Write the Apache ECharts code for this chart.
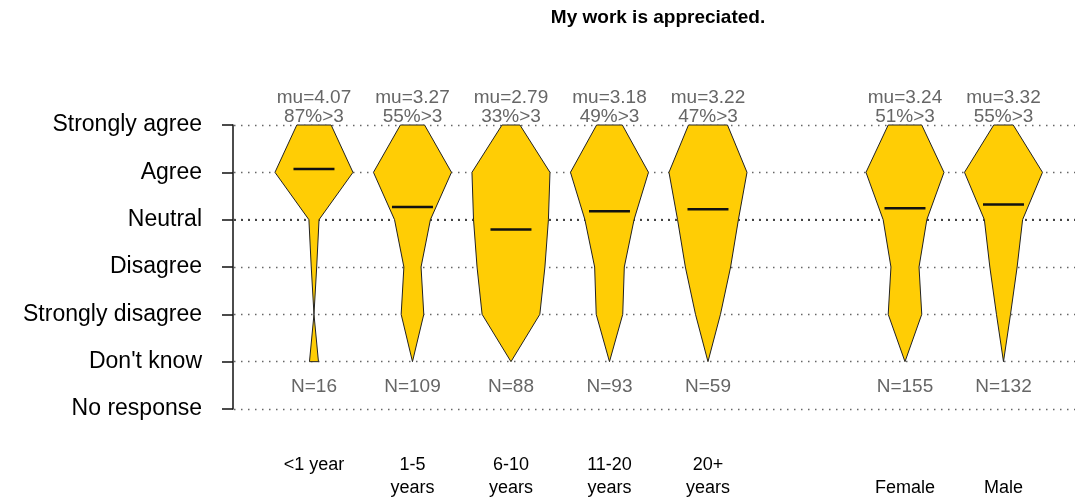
<!DOCTYPE html>
<html>
<head>
<meta charset="utf-8">
<script src="https://cdn.jsdelivr.net/npm/echarts@6/dist/echarts.min.js"></script>
<style>
  html, body { margin: 0; padding: 0; background: #fff; }
  #chart { width: 1075px; height: 502px; }
</style>
</head>
<body>
<div id="chart"></div>
<script>
const levels = ['No response', "Don't know", 'Strongly disagree', 'Disagree', 'Neutral', 'Agree', 'Strongly agree']
const groups = ['<1 year', '1-5\nyears', '6-10\nyears', '11-20\nyears', '20+\nyears', '\nFemale', '\nMale']
const groupPos = [0, 1, 2, 3, 4, 6, 7]
const mu = [4.07, 3.27, 2.79, 3.18, 3.22, 3.24, 3.32]
const pctAbove = ['87%>3', '55%>3', '33%>3', '49%>3', '47%>3', '51%>3', '55%>3']
const nResp = [16, 109, 88, 93, 59, 155, 132]

// relative half-widths of each shape at each level (1 = widest)
const wDontKnow = [0.115, 0, 0, 0, 0, 0, 0]
const wStrDisagree = [0, 0.29, 0.74, 0.34, 0.32, 0.43, 0.18]
const wDisagree = [0.07, 0.22, 0.87, 0.38, 0.58, 0.36, 0.35]
const wNeutral = [0.13, 0.46, 0.96, 0.63, 0.78, 0.56, 0.49]
const wAgree = [1, 1, 1, 1, 1, 1, 1]
const wStrAgree = [0.44, 0.31, 0.23, 0.33, 0.5, 0.43, 0.25]

const FILL = '#FFCD05'
const GRAY = '#666666'
const MAXW = 0.396
const MEANW = 0.208
const FONT = '"Liberation Sans", Arial, sans-serif'

const chart = echarts.init(document.getElementById('chart'))

const data = groupPos.map((p, i) => [p, wDontKnow[i], wStrDisagree[i], wDisagree[i], wNeutral[i], wAgree[i], wStrAgree[i], mu[i], i])

const renderViolin = (params, api) => {
  const x = api.value(0)
  const ws = [1, 2, 3, 4, 5, 6].map((k) => api.value(k))
  const m = api.value(7)
  const i = api.value(8)
  const pts = []
  for (let l = 0; l < 6; l++) pts.push(api.coord([x + ws[l] * MAXW, l]))
  for (let l = 5; l >= 0; l--) pts.push(api.coord([x - ws[l] * MAXW, l]))
  const a = api.coord([x - MEANW, m])
  const b = api.coord([x + MEANW, m])
  const top = api.coord([x, 5])
  const bot = api.coord([x, -0.5])
  return {
    type: 'group',
    children: [
      {
        type: 'polygon',
        shape: { points: pts },
        style: { fill: FILL, stroke: '#222', lineWidth: 1 }
      },
      {
        type: 'line',
        shape: { x1: a[0], y1: a[1], x2: b[0], y2: b[1] },
        style: { stroke: '#111', lineWidth: 2.5 }
      },
      {
        type: 'text',
        x: top[0],
        y: top[1] + 1.5,
        style: {
          text: 'mu=' + m.toFixed(2) + '\n' + pctAbove[i],
          fill: GRAY, fontSize: 19, fontFamily: FONT, lineHeight: 19,
          align: 'center', verticalAlign: 'bottom'
        }
      },
      {
        type: 'text',
        x: bot[0],
        y: bot[1] + 1,
        style: {
          text: 'N=' + nResp[i],
          fill: GRAY, fontSize: 19, fontFamily: FONT,
          align: 'center', verticalAlign: 'middle'
        }
      }
    ]
  }
}

const option = {
  backgroundColor: '#fff',
  animation: false,
  graphic: [{
    type: 'text',
    x: 658,
    y: 18,
    style: {
      text: 'My work is appreciated.',
      fill: '#000', fontSize: 19, fontWeight: 'bold', fontFamily: FONT,
      align: 'center', verticalAlign: 'middle'
    }
  }],
  grid: { left: 233, right: 0, top: 125, bottom: 93 },
  xAxis: {
    type: 'value',
    min: -0.822,
    max: 7.726,
    axisLine: { show: false },
    axisTick: { show: false },
    splitLine: { show: false },
    axisLabel: {
      customValues: groupPos,
      formatter: (v) => groups[groupPos.indexOf(v)],
      color: '#000', fontSize: 18, fontFamily: FONT, lineHeight: 23,
      margin: 45, verticalAlign: 'top'
    }
  },
  yAxis: {
    type: 'value',
    min: -1,
    max: 5,
    interval: 1,
    axisLine: { show: true, onZero: false, lineStyle: { color: '#111', width: 1.5 } },
    axisTick: { show: true, inside: false, length: 11, lineStyle: { color: '#111', width: 1.5 } },
    axisLabel: {
      formatter: (v) => levels[v + 1],
      color: '#000', fontSize: 23, fontFamily: FONT, margin: 31
    },
    splitLine: { show: true, lineStyle: { color: '#666', width: 1.3, type: [1.5, 5.5], dashOffset: -8 } }
  },
  series: [{
    type: 'custom',
    renderItem: renderViolin,
    data: data,
    z: 3,
    markLine: {
      silent: true,
      symbol: 'none',
      label: { show: false },
      lineStyle: { color: '#444', width: 2, type: [2, 5], dashOffset: -8 },
      data: [{ yAxis: 3 }],
      z: 1
    }
  }]
}

chart.setOption(option)
</script>
</body>
</html>
